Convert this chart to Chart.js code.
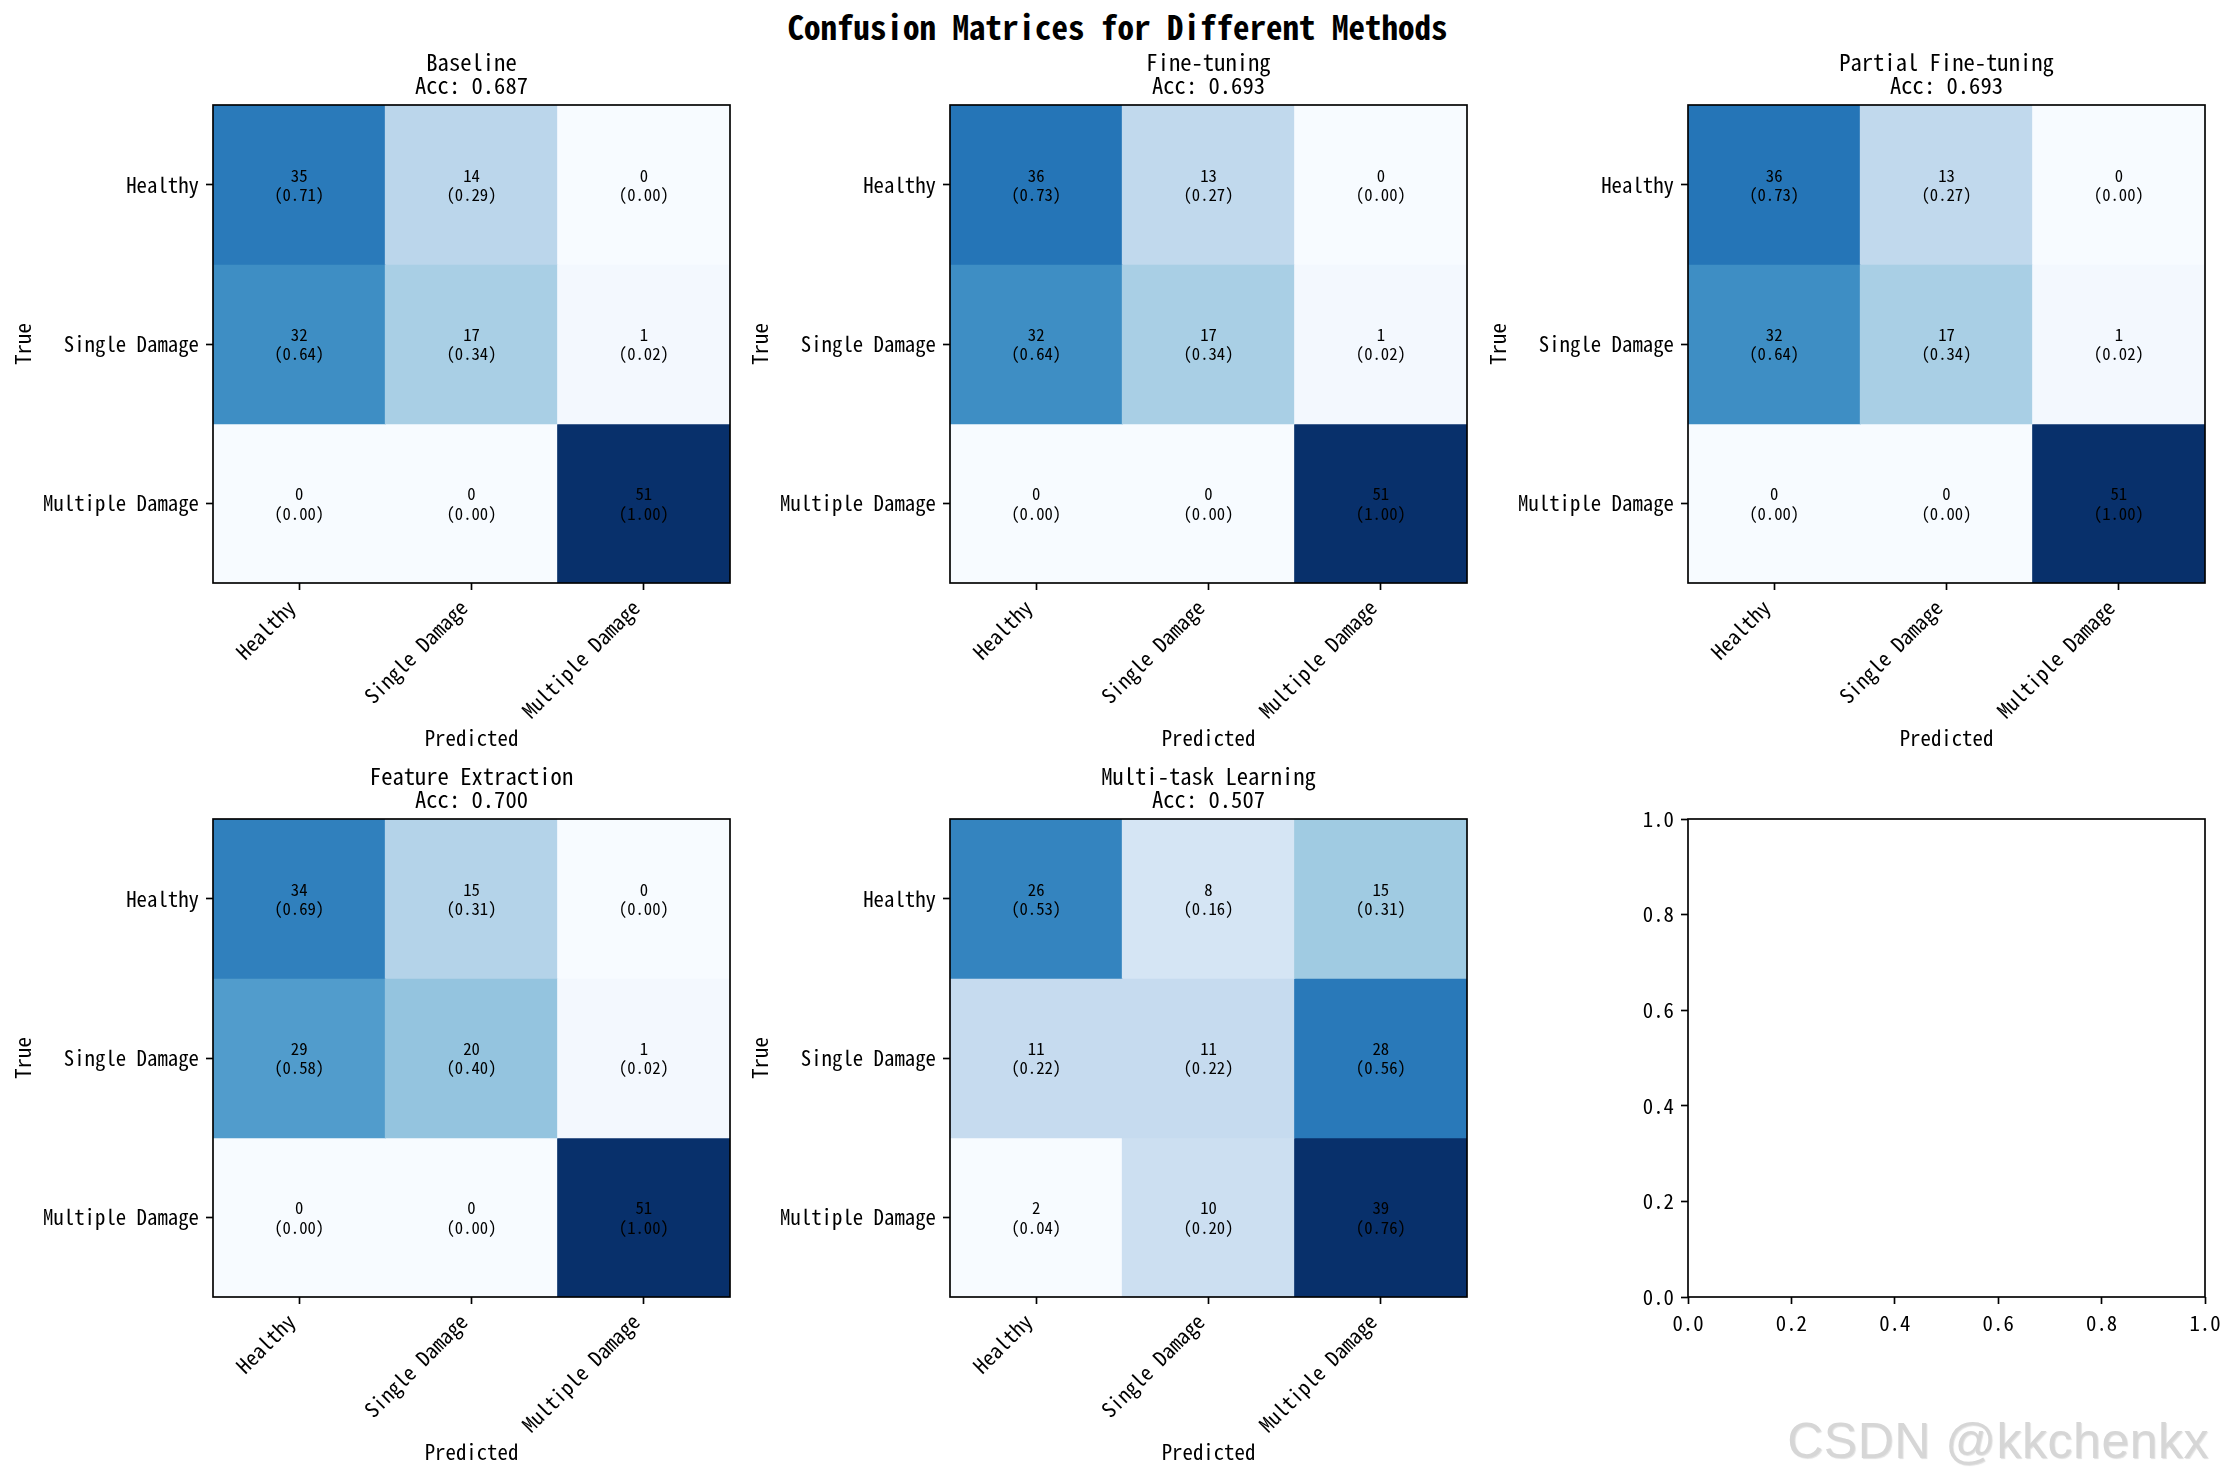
<!DOCTYPE html>
<html>
<head>
<meta charset="utf-8">
<script src="https://cdn.jsdelivr.net/npm/chart.js@4.4.1/dist/chart.umd.min.js"></script>
<style>
  html, body { margin:0; padding:0; background:#fff; }
  body { width:2235px; height:1477px; position:relative; overflow:hidden; }
  #suptitle { position:absolute; left:0; width:2235px; top:8px; text-align:center;
    font-family:'Noto Sans Mono CJK SC','Noto Sans CJK SC','DejaVu Sans Mono',monospace;
    font-weight:bold; font-size:33px; line-height:36px; color:#000; }
  canvas.sub { position:absolute; }
  #wm { position:absolute; right:26px; top:1413px; font-family:'Liberation Sans',Arial,sans-serif;
    font-size:50px; line-height:56px; color:#d6d6d6; letter-spacing:0.5px; text-shadow:1px 1px 1px rgba(0,0,0,0.12); }
</style>
</head>
<body>
<div id="suptitle">Confusion Matrices for Different Methods</div>
<div id="wm">CSDN @kkchenkx</div>
<script>
// ---------------- data ----------------
const classNames = ['Healthy', 'Single Damage', 'Multiple Damage'];
const methods = ['Baseline', 'Fine-tuning', 'Partial Fine-tuning', 'Feature Extraction', 'Multi-task Learning'];
const accuracies = [0.687, 0.693, 0.693, 0.700, 0.507];
const cmBaseline = [[35, 14, 0], [32, 17, 1], [0, 0, 51]];
const cmFineTuning = [[36, 13, 0], [32, 17, 1], [0, 0, 51]];
const cmPartialFineTuning = [[36, 13, 0], [32, 17, 1], [0, 0, 51]];
const cmFeatureExtraction = [[34, 15, 0], [29, 20, 1], [0, 0, 51]];
const cmMultiTask = [[26, 8, 15], [11, 11, 28], [2, 10, 39]];
const emptyTicks = [0.0, 0.2, 0.4, 0.6, 0.8, 1.0];

const matrices = [cmBaseline, cmFineTuning, cmPartialFineTuning, cmFeatureExtraction, cmMultiTask];

// ---------------- layout ----------------
const FONT = "'Noto Sans Mono CJK SC','Noto Sans CJK SC','DejaVu Sans Mono',monospace";
const colLeft = [213, 950, 1688];
const rowTop = [105, 819];
const PW = 517, PH = 478;
const WY = 200, TH = 60, XH = 170, RM = 24;

// matplotlib Blues
const BLUES = [[247,251,255],[222,235,247],[198,219,239],[158,202,225],[107,174,214],[66,146,198],[33,113,181],[8,81,156],[8,48,107]];
function blues(t) {
  t = Math.max(0, Math.min(1, t));
  const p = t * 8, i = Math.min(7, Math.floor(p)), f = p - i;
  const a = BLUES[i], b = BLUES[i + 1];
  const c = a.map((v, k) => Math.round(v + (b[k] - v) * f));
  return `rgb(${c[0]},${c[1]},${c[2]})`;
}

const framePlugin = {
  id: 'frame',
  afterDraw(chart) {
    const {ctx, chartArea: a} = chart;
    ctx.save();
    ctx.strokeStyle = '#000';
    ctx.lineWidth = 1.67;
    ctx.strokeRect(a.left, a.top, a.right - a.left, a.bottom - a.top);
    ctx.restore();
  }
};

const cellTextPlugin = {
  id: 'cellText',
  afterDatasetsDraw(chart) {
    const norm = chart.config.options.plugins.cellText;
    if (!norm) return;
    const {ctx} = chart;
    ctx.save();
    ctx.fillStyle = '#000';
    ctx.font = `16.7px ${FONT}`;
    ctx.textAlign = 'center';
    ctx.textBaseline = 'middle';
    chart.data.datasets.forEach((ds, r) => {
      chart.getDatasetMeta(r).data.forEach((el, c) => {
        const cy = (el.y + el.base) / 2;
        ctx.fillText(String(norm.counts[r][c]), el.x, cy - 9.5);
        ctx.fillText(`(${norm.frac[r][c].toFixed(2)})`, el.x, cy + 10);
      });
    });
    ctx.restore();
  }
};

function makeCanvas(col, row) {
  const cv = document.createElement('canvas');
  cv.className = 'sub';
  const w = WY + PW + RM, h = TH + PH + XH;
  cv.width = w; cv.height = h;
  cv.style.left = (colLeft[col] - WY) + 'px';
  cv.style.top = (rowTop[row] - TH) + 'px';
  cv.style.width = w + 'px'; cv.style.height = h + 'px';
  document.body.appendChild(cv);
  return cv;
}

const tickGrid = { drawOnChartArea: false, drawTicks: true, tickLength: 7, tickWidth: 1.67, tickColor: '#000', offset: false, color: 'rgba(0,0,0,0)' };

matrices.forEach((cm, k) => {
  const col = k % 3, row = Math.floor(k / 3);
  const frac = cm.map(r => { const s = r.reduce((a, b) => a + b, 0); return r.map(v => v / s); });
  const flat = frac.flat();
  const vmin = Math.min(...flat), vmax = Math.max(...flat);
  const datasets = cm.map((rowVals, r) => ({
    label: classNames[r],
    data: rowVals.map(() => [r - 0.5, r + 0.5]),
    backgroundColor: rowVals.map((v, c) => blues((frac[r][c] - vmin) / (vmax - vmin))),
    borderWidth: 0,
    grouped: false,
    barPercentage: 1,
    categoryPercentage: 1,
    inflateAmount: 0.5
  }));
  new Chart(makeCanvas(col, row), {
    type: 'bar',
    data: { labels: classNames, datasets },
    options: {
      responsive: false, animation: false, devicePixelRatio: 1,
      layout: { padding: { left: 0, top: 0, bottom: 0, right: RM } },
      plugins: {
        legend: { display: false }, tooltip: { enabled: false },
        title: { display: true, fullSize: false, text: [methods[k], 'Acc: ' + accuracies[k].toFixed(3)],
          color: '#000', font: { family: FONT, size: 22.6, weight: 'normal', lineHeight: 1 },
          padding: { top: 6.6, bottom: 8.2 } },
        cellText: { counts: cm, frac }
      },
      scales: {
        x: {
          type: 'category', offset: true,
          grid: tickGrid, border: { display: false },
          ticks: { color: '#000', font: { family: FONT, size: 20.8 }, maxRotation: 45, minRotation: 45, autoSkip: false, padding: 5, labelOffset: -8 },
          title: { display: true, text: 'Predicted', color: '#000', font: { family: FONT, size: 20.8, lineHeight: 1.2 }, padding: { top: 0, bottom: 2.5 } },
          afterFit(s) { s.height = XH; }
        },
        y: {
          type: 'linear', min: -0.5, max: 2.5, reverse: true,
          afterBuildTicks(s) { s.ticks = [0, 1, 2].map(v => ({ value: v })); },
          grid: tickGrid, border: { display: false },
          ticks: { color: '#000', font: { family: FONT, size: 20.8 }, padding: 7, callback: (v) => classNames[Math.round(v)] },
          title: { display: true, text: 'True', color: '#000', font: { family: FONT, size: 20.8, lineHeight: 1 }, padding: 0 },
          afterFit(s) { s.width = WY; }
        }
      }
    },
    plugins: [cellTextPlugin, framePlugin]
  });
});

// empty sixth axes
new Chart(makeCanvas(2, 1), {
  type: 'scatter',
  data: { datasets: [{ data: [], showLine: false }] },
  options: {
    responsive: false, animation: false, devicePixelRatio: 1,
    layout: { padding: { top: TH, right: RM } },
    plugins: { legend: { display: false }, tooltip: { enabled: false } },
    scales: {
      x: {
        type: 'linear', min: 0, max: 1,
        afterBuildTicks(s) { s.ticks = emptyTicks.map(v => ({ value: v })); },
        grid: tickGrid, border: { display: false },
        ticks: { color: '#000', font: { family: FONT, size: 20.8 }, padding: 7, maxRotation: 0, callback: v => Number(v).toFixed(1) },
        afterFit(s) { s.height = XH; }
      },
      y: {
        type: 'linear', min: 0, max: 1,
        afterBuildTicks(s) { s.ticks = emptyTicks.map(v => ({ value: v })); },
        grid: tickGrid, border: { display: false },
        ticks: { color: '#000', font: { family: FONT, size: 20.8 }, padding: 7, callback: v => Number(v).toFixed(1) },
        afterFit(s) { s.width = WY; }
      }
    }
  },
  plugins: [framePlugin]
});
</script>
</body>
</html>
